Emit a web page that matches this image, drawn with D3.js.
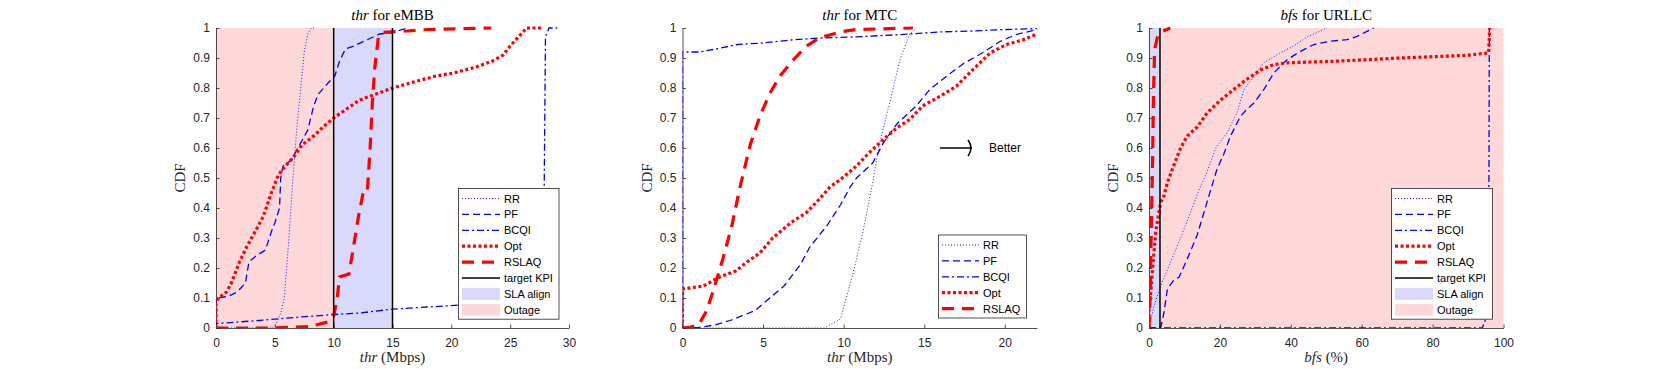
<!DOCTYPE html>
<html>
<head>
<meta charset="utf-8">
<script src="https://cdn.jsdelivr.net/npm/d3@7"></script>
<style>
  body { margin: 0; background: #fff; }
  svg { display: block; }
  .tick text { font-family: "Liberation Sans", Arial, sans-serif; font-size: 12px; fill: #262626; }
  .tick line, .domain { stroke: #262626; stroke-width: 0.8; }
</style>
</head>
<body>
<svg width="1661" height="369"></svg>
<script>
// ---- data ----
var yTicks = [0, 0.1, 0.2, 0.3, 0.4, 0.5, 0.6, 0.7, 0.8, 0.9, 1];

var embbTicks = [0, 5, 10, 15, 20, 25, 30];
var embbRR = [[0,0],[4.8,0],[5.2,0.02],[5.5,0.05],[5.8,0.1],[6.0,0.2],[6.2,0.3],[6.4,0.42],[6.6,0.53],[6.9,0.68],[7.2,0.8],[7.5,0.92],[7.8,0.98],[8.1,1],[8.5,1]];
var embbPF = [[0,0],[0,0.1],[1,0.105],[1.8,0.12],[2.5,0.15],[2.8,0.22],[3.4,0.24],[4.2,0.26],[4.7,0.32],[5.0,0.35],[5.4,0.4],[5.5,0.5],[5.7,0.54],[6.4,0.56],[7.1,0.61],[7.8,0.66],[8.3,0.74],[8.7,0.78],[9.6,0.82],[10.1,0.84],[10.5,0.89],[11,0.93],[11.7,0.94],[12.8,0.96],[13.9,0.98],[15,0.985],[16.3,1]];
var embbBCQI = [[0,0],[0,0.015],[3.7,0.025],[6.6,0.035],[10,0.045],[12.2,0.05],[15,0.063],[19.3,0.073],[22,0.08],[26,0.09],[27.8,0.1],[27.9,0.5],[28.0,0.97],[28.3,1],[29,1]];
var embbOpt = [[0,0],[0,0.08],[0.2,0.1],[0.9,0.12],[1.3,0.15],[2.0,0.22],[2.6,0.27],[3.3,0.32],[4.0,0.37],[4.7,0.45],[5.3,0.51],[5.9,0.54],[6.6,0.57],[7.3,0.61],[8.3,0.64],[9.1,0.67],[10,0.7],[11.1,0.73],[12.2,0.76],[13.6,0.78],[15,0.8],[16.8,0.82],[18.7,0.84],[20.2,0.85],[22.1,0.87],[23.5,0.89],[24.4,0.91],[25,0.94],[25.7,0.97],[26.4,1],[27.8,1]];
var embbRSLAQ = [[0,0],[5,0],[8,0.005],[9.5,0.02],[10,0.04],[10.3,0.1],[10.5,0.17],[11.3,0.18],[11.6,0.25],[12.1,0.37],[12.5,0.45],[12.85,0.45],[13.1,0.6],[13.3,0.76],[13.5,0.87],[13.8,0.97],[14.2,0.985],[16.2,0.99],[17.9,0.995],[23.4,1]];
var embbKPI = [10, 15];
var embbSLA = [10, 15];
var embbOutage = [0, 10];

var mtcTicks = [0, 5, 10, 15, 20];
var mtcRR = [[0,0],[8.8,0],[9.8,0.03],[10.6,0.185],[11.2,0.32],[11.8,0.485],[12.25,0.62],[12.9,0.76],[13.5,0.895],[14.1,0.98],[14.5,1]];
var mtcPF = [[0,0],[1,0.002],[2,0.01],[2.95,0.025],[4.5,0.058],[5.2,0.09],[6.3,0.14],[7.3,0.21],[7.9,0.27],[8.95,0.34],[9.8,0.41],[10.4,0.47],[10.8,0.5],[11.8,0.55],[12.5,0.62],[13.3,0.68],[13.9,0.71],[14.5,0.74],[15.35,0.795],[16.4,0.84],[17.4,0.88],[18.7,0.92],[19.7,0.955],[20.7,0.978],[22,0.995]];
var mtcBCQI = [[0,0],[0,0.92],[1,0.92],[2.1,0.93],[3.4,0.945],[5,0.95],[6.7,0.96],[8.7,0.967],[10.6,0.97],[13.5,0.978],[16,0.987],[18,0.99],[20.1,0.995],[22,0.998]];
var mtcOpt = [[0,0],[0,0.13],[1.3,0.14],[2.3,0.17],[3.3,0.19],[4,0.22],[4.8,0.25],[5.6,0.3],[6.7,0.35],[7.7,0.385],[8.5,0.43],[9.15,0.47],[9.8,0.495],[10.8,0.54],[11.6,0.585],[12.5,0.63],[13.3,0.667],[14.1,0.695],[14.9,0.74],[16,0.773],[17,0.806],[18,0.86],[19.1,0.917],[20.1,0.945],[21.1,0.96],[22,0.98]];
var mtcRSLAQ = [[0,0],[0.5,0.003],[1,0.01],[1.5,0.058],[2,0.14],[2.5,0.23],[3.06,0.34],[3.57,0.47],[4.2,0.61],[4.8,0.706],[5.4,0.78],[6.05,0.84],[6.9,0.895],[7.7,0.94],[8.5,0.967],[9.8,0.987],[10.8,0.995],[14.3,1]];

var urllcTicks = [0, 20, 40, 60, 80, 100];
var urllcRR = [[0,0],[1.4,0.074],[3.3,0.14],[6.1,0.22],[8.9,0.3],[11.7,0.385],[14.1,0.46],[16.4,0.52],[18.8,0.6],[22,0.65],[24.9,0.72],[26.8,0.795],[29.6,0.84],[32.4,0.884],[37,0.917],[40.8,0.94],[44.6,0.97],[50.2,1]];
var urllcPF = [[0,0],[3.3,0],[4.2,0.05],[5.2,0.13],[7,0.16],[8.5,0.17],[10.8,0.23],[13.6,0.31],[15.5,0.385],[17.4,0.46],[19.2,0.53],[21.1,0.58],[23,0.64],[25.8,0.706],[27.7,0.73],[29.6,0.75],[32.4,0.795],[35.2,0.85],[39,0.895],[42.7,0.922],[46.5,0.945],[51.2,0.956],[55.9,0.961],[58.7,0.972],[61.5,0.989],[63.4,1]];
var urllcBCQI = [[0,0],[94,0],[95,0.03],[95.6,0.1],[95.9,0.5],[96,1]];
var urllcOpt = [[0,0],[0,0.06],[0.5,0.12],[0.9,0.18],[1.9,0.32],[2.8,0.385],[3.3,0.42],[4.2,0.44],[5.2,0.485],[6.6,0.53],[8.9,0.6],[10.8,0.64],[13.6,0.67],[16.4,0.717],[20.2,0.76],[23.9,0.795],[27.7,0.83],[31.5,0.86],[35.2,0.878],[39,0.884],[52.1,0.889],[70.9,0.9],[89.7,0.909],[95.8,0.917],[96.1,1]];
var urllcRSLAQ = [[0,0],[0.3,0.1],[0.6,0.3],[1.0,0.55],[1.3,0.8],[1.6,0.93],[2.5,0.975],[4,0.99],[6,1]];
var urllcKPI = [3.1];
var urllcSLA = [0, 3.1];
var urllcOutage = [3.1, 100];

var seriesNames = ["RR", "PF", "BCQI", "Opt", "RSLAQ"];
// ---- styles ----
var styles = {
  RR:    { color: "#0000ff", width: 0.9, dash: "1,2" },
  PF:    { color: "#0000ff", width: 1.3, dash: "7,4" },
  BCQI:  { color: "#0000ff", width: 1.3, dash: "7,3,2,3" },
  Opt:   { color: "#ff0000", width: 3.2, dash: "3,2.5" },
  RSLAQ: { color: "#ff0000", width: 3.2, dash: "12,8" }
};
var slaColor = "#d9d9fc", outageColor = "#ffd9d9";

var svg = d3.select("svg");
var serif = "'Liberation Serif', 'Times New Roman', serif";
var sans = "'Liberation Sans', Arial, sans-serif";

var panels = [
  { left: 216, right: 569, xMax: 30, ticks: embbTicks, v: "thr", title: " for eMBB", unit: " (Mbps)",
    data: [embbRR, embbPF, embbBCQI, embbOpt, embbRSLAQ], kpi: embbKPI, sla: embbSLA, outage: embbOutage,
    legend: { x: 458.5, y: 188.5, w: 100.5, lx: 462, lw: 38, tx: 504 } },
  { left: 682.5, right: 1037, xMax: 22, ticks: mtcTicks, v: "thr", title: " for MTC", unit: " (Mbps)",
    data: [mtcRR, mtcPF, mtcBCQI, mtcOpt, mtcRSLAQ], kpi: null,
    legend: { x: 938.5, y: 235, w: 88, lx: 942, lw: 37, tx: 983 } },
  { left: 1149, right: 1503.5, xMax: 100, ticks: urllcTicks, v: "bfs", title: " for URLLC", unit: " (%)",
    data: [urllcRR, urllcPF, urllcBCQI, urllcOpt, urllcRSLAQ], kpi: urllcKPI, sla: urllcSLA, outage: urllcOutage,
    legend: { x: 1391.5, y: 188.5, w: 101, lx: 1395, lw: 38, tx: 1437 } }
];

var plotTop = 28, plotBottom = 328;

panels.forEach(function(p, i) {
  var x = d3.scaleLinear().domain([0, p.xMax]).range([p.left, p.right]);
  var y = d3.scaleLinear().domain([0, 1]).range([plotBottom, plotTop]);
  var g = svg.append("g");

  var clipId = "clip" + i;
  svg.append("clipPath").attr("id", clipId).append("rect")
    .attr("x", p.left).attr("y", plotTop - 2).attr("width", p.right - p.left).attr("height", plotBottom - plotTop + 2);

  // shaded regions
  if (p.outage) {
    g.append("rect").attr("x", x(p.outage[0])).attr("y", y(1))
      .attr("width", x(p.outage[1]) - x(p.outage[0])).attr("height", y(0) - y(1)).attr("fill", outageColor);
    g.append("rect").attr("x", x(p.sla[0])).attr("y", y(1))
      .attr("width", x(p.sla[1]) - x(p.sla[0])).attr("height", y(0) - y(1)).attr("fill", slaColor);
  }

  // axes
  g.append("g").attr("transform", "translate(0," + plotBottom + ")")
    .call(d3.axisBottom(x).tickValues(p.ticks).tickSizeInner(-3.5).tickSizeOuter(0).tickPadding(10));
  g.append("g").attr("transform", "translate(" + p.left + ",0)")
    .call(d3.axisLeft(y).tickValues(yTicks).tickFormat(d3.format("~g")).tickSizeInner(-3.5).tickSizeOuter(0).tickPadding(6));

  // curves
  var line = d3.line().x(function(d) { return x(d[0]); }).y(function(d) { return y(d[1]); });
  var cg = g.append("g").attr("clip-path", "url(#" + clipId + ")");
  p.data.forEach(function(s, k) {
    var st = styles[seriesNames[k]];
    cg.append("path").datum(s).attr("d", line).attr("fill", "none")
      .attr("stroke", st.color).attr("stroke-width", st.width).attr("stroke-dasharray", st.dash);
  });

  // target KPI lines
  if (p.kpi) {
    p.kpi.forEach(function(k) {
      g.append("line").attr("x1", x(k)).attr("x2", x(k)).attr("y1", y(0)).attr("y2", y(1))
        .attr("stroke", "#000").attr("stroke-width", 1.5);
    });
  }

  // title & labels
  var cx = (p.left + p.right) / 2;
  var t = g.append("text").attr("x", cx).attr("y", 20).attr("text-anchor", "middle")
    .attr("font-family", serif).attr("font-size", 15).attr("fill", "#000");
  t.append("tspan").attr("font-style", "italic").text(p.v);
  t.append("tspan").text(p.title);

  var xl = g.append("text").attr("x", cx).attr("y", 362).attr("text-anchor", "middle")
    .attr("font-family", serif).attr("font-size", 15).attr("fill", "#262626");
  xl.append("tspan").attr("font-style", "italic").text(p.v);
  xl.append("tspan").text(p.unit);

  g.append("text").attr("transform", "translate(" + (p.left - 31) + "," + ((plotTop + plotBottom) / 2) + ") rotate(-90)")
    .attr("text-anchor", "middle").attr("font-family", serif).attr("font-size", 15).attr("fill", "#262626")
    .text("CDF");

  // legend
  var L = p.legend;
  var entries = seriesNames.map(function(n) { return { name: n, type: "line", st: styles[n] }; });
  if (p.kpi) {
    entries.push({ name: "target KPI", type: "line", st: { color: "#000", width: 1.5, dash: null } });
    entries.push({ name: "SLA align", type: "patch", fill: slaColor });
    entries.push({ name: "Outage", type: "patch", fill: outageColor });
  }
  var rowH = 15.9;
  var lh = entries.length * rowH + 3.5;
  var lg = g.append("g");
  lg.append("rect").attr("x", L.x).attr("y", L.y).attr("width", L.w).attr("height", lh)
    .attr("fill", "#fff").attr("stroke", "#262626").attr("stroke-width", 0.8);
  entries.forEach(function(e, k) {
    var ry = L.y + 10 + k * rowH;
    if (e.type === "line") {
      lg.append("line").attr("x1", L.lx).attr("x2", L.lx + L.lw).attr("y1", ry).attr("y2", ry)
        .attr("stroke", e.st.color).attr("stroke-width", e.st.width).attr("stroke-dasharray", e.st.dash);
    } else {
      lg.append("rect").attr("x", L.lx).attr("y", ry - 6).attr("width", L.lw).attr("height", 12).attr("fill", e.fill);
    }
    lg.append("text").attr("x", L.tx).attr("y", ry + 4).attr("font-family", sans).attr("font-size", 11)
      .attr("fill", "#000").text(e.name);
  });

  // "Better" arrow on the MTC panel
  if (i === 1) {
    var ay = y(0.6);
    g.append("line").attr("x1", 940).attr("x2", 972).attr("y1", ay).attr("y2", ay).attr("stroke", "#000").attr("stroke-width", 1.5);
    g.append("path").attr("d", "M968," + (ay - 8) + " Q974," + ay + " 968," + (ay + 8))
      .attr("fill", "none").attr("stroke", "#000").attr("stroke-width", 1.5);
    g.append("text").attr("x", 989).attr("y", ay + 4).attr("font-family", sans).attr("font-size", 12)
      .attr("fill", "#000").text("Better");
  }
});
</script>
</body>
</html>
